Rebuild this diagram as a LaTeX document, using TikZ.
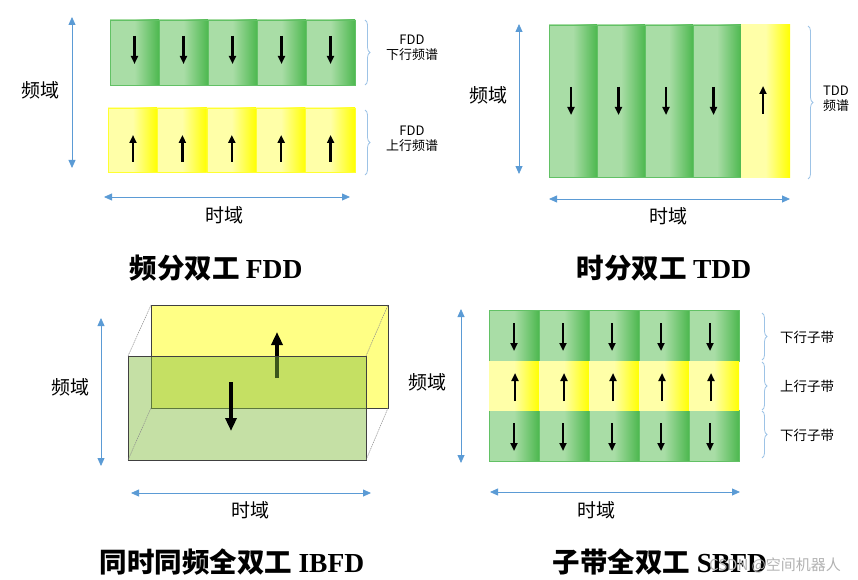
\documentclass[tikz,border=0pt]{standalone}
\usepackage{fontspec}
\setmainfont{Noto Sans CJK SC}
\newfontfamily\latinbf{Liberation Serif}
\usetikzlibrary{arrows.meta,decorations.pathreplacing}
\definecolor{axisblue}{HTML}{5B9BD5}
\definecolor{bracecol}{HTML}{9DC3E6}
\definecolor{glight}{HTML}{A9DDA6}
\definecolor{gdark}{HTML}{4DB84F}
\definecolor{gborder}{HTML}{62C165}
\definecolor{ylight}{HTML}{FFFFA8}
\definecolor{ydark}{HTML}{FFFF00}
\definecolor{yborder}{HTML}{FFFF30}
\definecolor{backyellow}{HTML}{FFFF85}
\definecolor{frontgreen}{RGB}{129,188,59}
\tikzset{
  axis/.style={draw=axisblue, line width=0.8pt,
    {Triangle[length=8pt,width=7pt]}-{Triangle[length=8pt,width=7pt]}},
  dirarrow/.style={line width=2.4pt, -{Triangle[length=8pt,width=7pt]}},
  bigarrow/.style={line width=3.4pt, -{Triangle[length=13pt,width=11pt]}},
  brc/.style={draw=bracecol, line width=0.8pt, decorate, decoration={brace, amplitude=5pt}},
  gcell/.style={left color=glight, right color=gdark, middle color=glight},
  ycell/.style={left color=ylight, right color=ydark, middle color=ylight},
  axlabel/.style={font=\fontsize{19}{21}\selectfont, inner sep=0pt},
  smlabel/.style={font=\fontsize{13}{15.5}\selectfont, align=center, inner sep=0pt},
  sblabel/.style={font=\fontsize{13.5}{15}\selectfont, inner sep=0pt},
  title/.style={font=\fontsize{27.5}{30}\selectfont\bfseries, inner sep=0pt},
  edge3d/.style={draw=gray!90, line width=0.5pt, dash pattern=on 1.5pt off 0.8pt}
}
\newcommand\lt[1]{{\latinbf\bfseries #1}}
\begin{document}
\begin{tikzpicture}[x=1pt,y=-1pt]
\useasboundingbox (0,0) rectangle (858,580);

% ================= FDD =================
\coordinate (f-vt) at (72,17);
\coordinate (f-vb) at (72,168);
\draw[axis] (f-vt) -- (f-vb);
\node[axlabel] (f-vl) at (40,90) {频域};
\foreach \i in {0,...,4} {
  \shade[gcell] ({110+49*\i},20) rectangle ++(49,65);
  \draw[gborder, line width=0.6pt] ({110+49*\i},20) rectangle ++(49,65);
  \coordinate (fd-a\i) at ({134.5+49*\i},36);
  \coordinate (fd-b\i) at ({134.5+49*\i},64);
  \draw[dirarrow] (fd-a\i) -- (fd-b\i);
}
\foreach \i in {0,...,4} {
  \shade[ycell] ({108+49.4*\i},108) rectangle ++(49.4,64);
  \draw[yborder, line width=0.6pt] ({108+49.4*\i},108) rectangle ++(49.4,64);
  \coordinate (fu-a\i) at ({133+49.4*\i},162);
  \coordinate (fu-b\i) at ({133+49.4*\i},135);
  \draw[dirarrow] (fu-a\i) -- (fu-b\i);
}
\coordinate (fb1t) at (365,20);
\coordinate (fb1b) at (365,85);
\draw[brc] (fb1t) -- (fb1b);
\coordinate (fb2t) at (365,110);
\coordinate (fb2b) at (365,175);
\draw[brc] (fb2t) -- (fb2b);
\node[smlabel] (f-dl) at (412,48) {FDD\\下行频谱};
\node[smlabel] (f-ul) at (412,139) {FDD\\上行频谱};
\coordinate (f-hl) at (104,197);
\coordinate (f-hr) at (350,197);
\draw[axis] (f-hl) -- (f-hr);
\node[axlabel] (f-hlab) at (224,215) {时域};
\node[title] (f-title) at (216,268) {频分双工 \lt{FDD}};

% ================= TDD =================
\coordinate (t-vt) at (519,24);
\coordinate (t-vb) at (519,174);
\draw[axis] (t-vt) -- (t-vb);
\node[axlabel] (t-vl) at (488,95) {频域};
\foreach \i in {0,...,3} {
  \shade[gcell] ({549+48*\i},25) rectangle ++(48,152);
  \draw[gborder, line width=0.6pt] ({549+48*\i},25) rectangle ++(48,152);
  \coordinate (td-a\i) at ({571+47.5*\i},87);
  \coordinate (td-b\i) at ({571+47.5*\i},115);
  \draw[dirarrow] (td-a\i) -- (td-b\i);
}
\shade[ycell] (741,25) rectangle (790,177);
\coordinate (tu-a) at (763,114);
\coordinate (tu-b) at (763,86);
\draw[dirarrow] (tu-a) -- (tu-b);
\coordinate (tbt) at (808,26);
\coordinate (tbb) at (808,179);
\draw[brc] (tbt) -- (tbb);
\node[smlabel] (t-sl) at (836,99) {TDD\\频谱};
\coordinate (t-hl) at (549,199);
\coordinate (t-hr) at (790,199);
\draw[axis] (t-hl) -- (t-hr);
\node[axlabel] (t-hlab) at (668,216) {时域};
\node[title] (t-title) at (664,268) {时分双工 \lt{TDD}};

% ================= IBFD =================
\coordinate (i-vt) at (101,318);
\coordinate (i-vb) at (101,466);
\draw[axis] (i-vt) -- (i-vb);
\node[axlabel] (i-vl) at (70,387) {频域};
\coordinate (by1) at (151,305);
\coordinate (by2) at (388,408);
\coordinate (fg1) at (128,356);
\coordinate (fg2) at (366,460);
\fill[backyellow] (by1) rectangle (by2);
\draw[black!75, line width=0.9pt] (by1) rectangle (by2);
\coordinate (iu-a) at (277,378);
\coordinate (iu-b) at (277,332);
\draw[bigarrow] (iu-a) -- (iu-b);
\fill[frontgreen, fill opacity=0.46] (fg1) rectangle (fg2);
\draw[black!75, line width=0.9pt] (fg1) rectangle (fg2);
\draw[edge3d] (fg1) -- (by1);
\draw[edge3d] (366,356) -- (388,305);
\draw[edge3d] (128,460) -- (151,408);
\draw[edge3d] (fg2) -- (388,408);
\coordinate (id-a) at (231,382);
\coordinate (id-b) at (231,431);
\draw[bigarrow] (id-a) -- (id-b);
\coordinate (i-hl) at (131,493);
\coordinate (i-hr) at (371,493);
\draw[axis] (i-hl) -- (i-hr);
\node[axlabel] (i-hlab) at (250,510) {时域};
\node[title] (i-title) at (232,562) {同时同频全双工 \lt{IBFD}};

% ================= SBFD =================
\coordinate (s-vt) at (461,309);
\coordinate (s-vb) at (461,463);
\draw[axis] (s-vt) -- (s-vb);
\node[axlabel] (s-vl) at (427,382) {频域};
\foreach \r/\y in {0/310,2/410} {
  \foreach \i in {0,...,4} {
    \shade[gcell] ({489+50*\i},\y) rectangle ++(50,51);
    \draw[gborder, line width=0.6pt] ({489+50*\i},\y) rectangle ++(50,51);
    \coordinate (sd\r-a\i) at ({514+49*\i},{\y+13});
    \coordinate (sd\r-b\i) at ({514+49*\i},{\y+41});
    \draw[dirarrow] (sd\r-a\i) -- (sd\r-b\i);
  }
}
\foreach \i in {0,...,4} {
  \shade[ycell] ({489+50*\i},361) rectangle ++(50,49);
  \coordinate (su-a\i) at ({515+49*\i},401);
  \coordinate (su-b\i) at ({515+49*\i},373);
  \draw[dirarrow] (su-a\i) -- (su-b\i);
}
\coordinate (sb1t) at (762,313);
\coordinate (sb1b) at (762,360);
\draw[brc] (sb1t) -- (sb1b);
\coordinate (sb2t) at (762,362);
\coordinate (sb2b) at (762,410);
\draw[brc] (sb2t) -- (sb2b);
\coordinate (sb3t) at (762,411);
\coordinate (sb3b) at (762,458);
\draw[brc] (sb3t) -- (sb3b);
\node[sblabel] (s-l1) at (807,337) {下行子带};
\node[sblabel] (s-l2) at (807,386) {上行子带};
\node[sblabel] (s-l3) at (807,435) {下行子带};
\coordinate (s-hl) at (490,492);
\coordinate (s-hr) at (740,492);
\draw[axis] (s-hl) -- (s-hr);
\node[axlabel] (s-hlab) at (596,510) {时域};
\node[title] (s-title) at (660,562) {子带全双工 \lt{SBFD}};
\node[font=\fontsize{15}{17}\selectfont, text=gray!60, inner sep=0pt] (wm) at (775,565) {CSDN @空间机器人};
\end{tikzpicture}
\end{document}
